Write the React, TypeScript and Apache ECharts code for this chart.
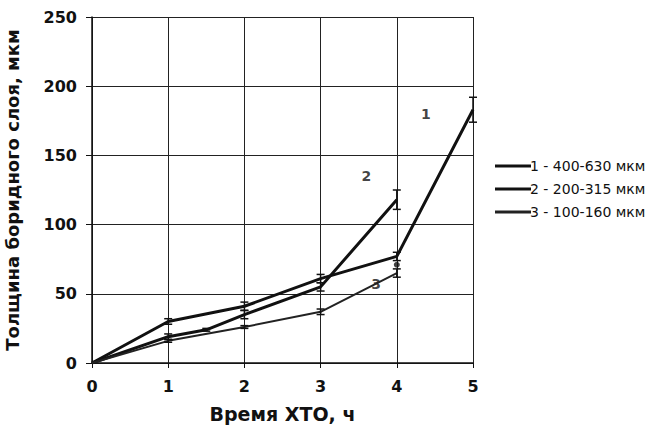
import React, { useEffect, useRef } from "react";
import * as echarts from "echarts";

// Series 1: 400-630 мкм
const x1 = [0, 1, 2, 3, 4, 5];
const y1 = [0, 30, 41, 61, 77, 183];
const e1 = [0, 2, 3, 3, 3, 9];
// Series 2: 200-315 мкм
const x2 = [0, 1, 1.5, 2, 3, 4];
const y2 = [0, 19, 24, 35, 55, 118];
const e2 = [0, 2, 1, 3, 3, 7];
// Series 3: 100-160 мкм
const x3 = [0, 1, 2, 3, 4];
const y3 = [0, 16, 26, 37, 65];
const e3 = [0, 1, 1, 2, 3];
// Extra marker dot
const dotX = [4];
const dotY = [71];

const legendNames = ["1 - 400-630 мкм", "2 - 200-315 мкм", "3 - 100-160 мкм"];
const curveLabels = ["1", "2", "3"];
const curveLabelX = [4.38, 3.6, 3.73];
const curveLabelY = [180, 135, 57];

const xTicks = [0, 1, 2, 3, 4, 5];
const yTicks = [0, 50, 100, 150, 200, 250];

const FONT = "'DejaVu Sans', Arial, sans-serif";
const INK = "#111";

function pairs(xs: number[], ys: number[]) {
  return xs.map((x, i) => [x, ys[i]]);
}
function errData(xs: number[], ys: number[], es: number[]) {
  return xs
    .map((x, i) => [x, ys[i] - es[i], ys[i] + es[i]])
    .filter((d, i) => es[i] > 0);
}

function errorSeries(data: number[][], width: number) {
  return {
    type: "custom",
    silent: true,
    z: 5,
    data,
    renderItem: (params: any, api: any) => {
      const x = api.value(0);
      const lo = api.coord([x, api.value(1)]);
      const hi = api.coord([x, api.value(2)]);
      const w = 4;
      const style = { stroke: INK, lineWidth: width };
      return {
        type: "group",
        children: [
          { type: "line", shape: { x1: lo[0], y1: lo[1], x2: hi[0], y2: hi[1] }, style },
          { type: "line", shape: { x1: lo[0] - w, y1: lo[1], x2: lo[0] + w, y2: lo[1] }, style },
          { type: "line", shape: { x1: hi[0] - w, y1: hi[1], x2: hi[0] + w, y2: hi[1] }, style },
        ],
      };
    },
  };
}

export default function App() {
  const ref = useRef<HTMLDivElement>(null);
  useEffect(() => {
    if (!ref.current) return;
    const chart = echarts.init(ref.current, undefined, { renderer: "svg" });
    const lineWidths = [3, 3, 2];
    const option: any = {
      animation: false,
      backgroundColor: "#fff",
      grid: { left: 92, right: 185, top: 17, bottom: 73, outerBoundsMode: "none", containLabel: false },
      legend: {
        orient: "vertical",
        left: 490,
        top: 154,
        itemWidth: 36,
        itemHeight: 3,
        itemGap: 9,
        icon: "rect",
        data: legendNames,
        textStyle: { fontFamily: FONT, fontSize: 14, color: INK, padding: [0, 0, 0, -6] },
      },
      xAxis: {
        type: "value",
        min: 0,
        max: 5,
        interval: 1,
        name: "Время ХТО, ч",
        nameLocation: "middle",
        nameGap: 41,
        nameTextStyle: { fontFamily: FONT, fontSize: 19, fontWeight: "bold", color: INK },
        axisLine: { lineStyle: { color: INK, width: 1.5 } },
        axisTick: { show: true, length: 5, lineStyle: { color: INK } },
        axisLabel: {
          fontFamily: FONT,
          fontSize: 16,
          fontWeight: "bold",
          color: INK,
          margin: 15,
          customValues: xTicks,
        },
        splitLine: { show: true, lineStyle: { color: "#222", width: 1 } },
      },
      yAxis: {
        type: "value",
        min: 0,
        max: 250,
        interval: 50,
        name: "Толщина боридного слоя, мкм",
        nameLocation: "middle",
        nameGap: 71,
        nameTextStyle: { fontFamily: FONT, fontSize: 18, fontWeight: "bold", color: INK },
        axisLine: { show: true, lineStyle: { color: INK, width: 1.5 } },
        axisTick: { show: true, length: 6, lineStyle: { color: INK } },
        axisLabel: {
          fontFamily: FONT,
          fontSize: 16,
          fontWeight: "bold",
          color: INK,
          margin: 15,
          customValues: yTicks,
        },
        splitLine: { show: true, lineStyle: { color: "#222", width: 1 } },
      },
      series: [
        {
          name: legendNames[0],
          type: "line",
          data: pairs(x1, y1),
          symbol: "none",
          lineStyle: { color: INK, width: lineWidths[0] },
          itemStyle: { color: INK },
          z: 4,
        },
        {
          name: legendNames[1],
          type: "line",
          data: pairs(x2, y2),
          symbol: "none",
          lineStyle: { color: INK, width: lineWidths[1] },
          itemStyle: { color: INK },
          z: 4,
        },
        {
          name: legendNames[2],
          type: "line",
          data: pairs(x3, y3),
          symbol: "none",
          lineStyle: { color: "#222", width: lineWidths[2] },
          itemStyle: { color: "#222" },
          z: 4,
        },
        errorSeries(errData(x1, y1, e1), 1.5),
        errorSeries(errData(x2, y2, e2), 1.5),
        errorSeries(errData(x3, y3, e3), 1.5),
        {
          type: "scatter",
          data: pairs(dotX, dotY),
          symbol: "circle",
          symbolSize: 6,
          itemStyle: { color: INK },
          silent: true,
          z: 6,
        },
        {
          type: "scatter",
          data: curveLabelX.map((x, i) => ({ value: [x, curveLabelY[i]], name: curveLabels[i] })),
          symbolSize: 0,
          silent: true,
          label: {
            show: true,
            position: "inside",
            formatter: (p: any) => p.name,
            fontFamily: FONT,
            fontSize: 14,
            fontWeight: "bold",
            color: INK,
          },
        },
      ],
    };
    chart.setOption(option);
    return () => chart.dispose();
  }, []);
  return (
    <div
      ref={ref}
      style={{ position: "fixed", left: 0, top: 0, width: 658, height: 436, background: "#fff" }}
    />
  );
}
